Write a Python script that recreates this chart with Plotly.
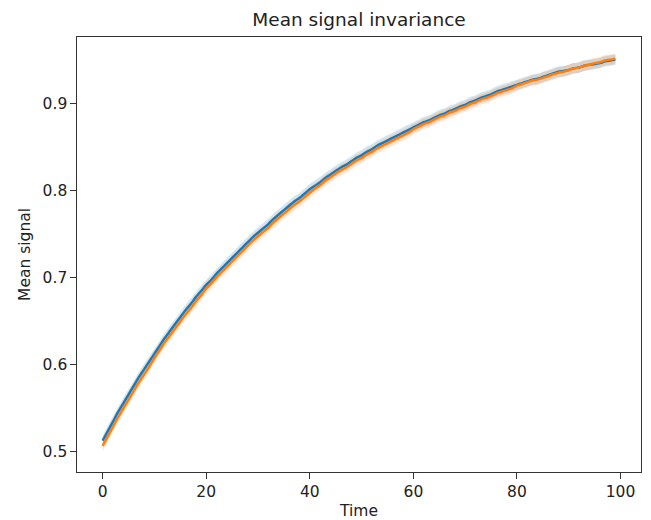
import plotly.graph_objects as go

time = list(range(100))

blue_mean = [
    0.512, 0.523, 0.534, 0.545, 0.555, 0.565, 0.575, 0.585, 0.594, 0.603,
    0.612, 0.621, 0.630, 0.638, 0.646, 0.654, 0.662, 0.669, 0.677, 0.684,
    0.691, 0.697, 0.704, 0.710, 0.716, 0.722, 0.728, 0.734, 0.740, 0.746,
    0.751, 0.756, 0.761, 0.767, 0.772, 0.777, 0.782, 0.787, 0.791, 0.796,
    0.801, 0.805, 0.809, 0.814, 0.818, 0.822, 0.826, 0.829, 0.833, 0.837,
    0.840, 0.844, 0.847, 0.851, 0.854, 0.857, 0.860, 0.863, 0.866, 0.869,
    0.872, 0.875, 0.878, 0.880, 0.883, 0.886, 0.888, 0.891, 0.893, 0.896,
    0.898, 0.901, 0.903, 0.906, 0.908, 0.910, 0.913, 0.915, 0.917, 0.919,
    0.921, 0.923, 0.925, 0.927, 0.928, 0.930, 0.932, 0.934, 0.936, 0.937,
    0.938, 0.940, 0.941, 0.943, 0.944, 0.945, 0.946, 0.948, 0.949, 0.950,
]

orange_mean = [
    0.506, 0.517, 0.528, 0.539, 0.549, 0.559, 0.569, 0.579, 0.588, 0.597,
    0.607, 0.616, 0.625, 0.633, 0.641, 0.649, 0.657, 0.664, 0.672, 0.679,
    0.687, 0.693, 0.700, 0.706, 0.712, 0.718, 0.724, 0.730, 0.736, 0.742,
    0.747, 0.752, 0.757, 0.763, 0.768, 0.773, 0.778, 0.783, 0.787, 0.792,
    0.797, 0.802, 0.806, 0.811, 0.815, 0.819, 0.823, 0.826, 0.830, 0.834,
    0.837, 0.841, 0.844, 0.848, 0.851, 0.854, 0.857, 0.860, 0.863, 0.866,
    0.870, 0.873, 0.876, 0.878, 0.881, 0.884, 0.886, 0.889, 0.891, 0.894,
    0.896, 0.899, 0.901, 0.904, 0.906, 0.908, 0.911, 0.913, 0.915, 0.917,
    0.920, 0.922, 0.924, 0.926, 0.927, 0.929, 0.931, 0.933, 0.935, 0.936,
    0.938, 0.940, 0.941, 0.943, 0.944, 0.946, 0.947, 0.949, 0.950, 0.951,
]

blue_spread = 0.006
orange_spread = 0.006

x_ticks = [0, 20, 40, 60, 80, 100]
y_ticks = [0.5, 0.6, 0.7, 0.8, 0.9]

series = [
    (blue_mean, blue_spread, "#1f77b4", "rgba(31,119,180,0.2)"),
    (orange_mean, orange_spread, "#ff7f0e", "rgba(255,127,14,0.2)"),
]

fig = go.Figure()
for mean, spread, line_color, fill_color in series:
    upper = [m + spread for m in mean]
    lower = [m - spread for m in mean]
    fig.add_trace(go.Scatter(x=time, y=upper, mode="lines",
                             line=dict(width=0, shape="spline", smoothing=0.8),
                             showlegend=False, hoverinfo="skip"))
    fig.add_trace(go.Scatter(x=time, y=lower, mode="lines",
                             line=dict(width=0, shape="spline", smoothing=0.8),
                             fill="tonexty", fillcolor=fill_color,
                             showlegend=False, hoverinfo="skip"))
for mean, spread, line_color, fill_color in series:
    fig.add_trace(go.Scatter(x=time, y=mean, mode="lines",
                             line=dict(color=line_color, width=2.5, shape="spline", smoothing=0.8),
                             showlegend=False))

axis_common = dict(
    showgrid=False, zeroline=False, showline=True, linecolor="#333333",
    linewidth=1.3, mirror=True, ticks="outside", ticklen=5.5, tickwidth=1.3,
    tickcolor="#333333", automargin=False,
    tickfont=dict(family="DejaVu Sans", size=15.5, color="#222222"),
    title_font=dict(family="DejaVu Sans", size=15.5, color="#222222"),
)

fig.update_layout(
    width=643, height=512,
    margin=dict(l=69, r=10, t=29, b=48),
    plot_bgcolor="white", paper_bgcolor="white",
    title=dict(text="Mean signal invariance", x=0.5, xref="paper", xanchor="center",
               y=1, yref="paper", yanchor="bottom", pad=dict(b=11),
               font=dict(family="DejaVu Sans", size=18.5, color="#222222")),
    xaxis=dict(range=[-4.95, 103.95], tickvals=x_ticks, title=dict(text="Time", standoff=9),
               **axis_common),
    yaxis=dict(range=[0.476, 0.976], tickvals=y_ticks, title=dict(text="Mean signal", standoff=8),
               **axis_common),
)

fig.write_html("out.html")
